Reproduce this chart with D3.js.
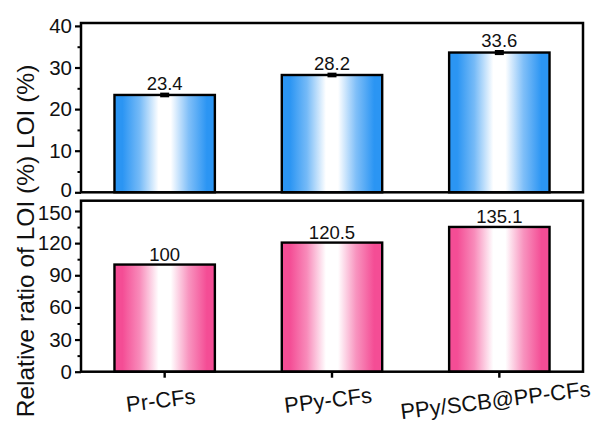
<!DOCTYPE html>
<html>
<head>
<meta charset="utf-8">
<script src="https://cdn.jsdelivr.net/npm/d3@7"></script>
<style>
  html, body { margin: 0; padding: 0; background: #fff; }
  svg text { font-family: "Liberation Sans", Arial, sans-serif; fill: #111; }
</style>
</head>
<body>
<svg id="chart" width="595" height="428"></svg>
<script>
// Samples and measured values
const categories = ["Pr-CFs", "PPy-CFs", "PPy/SCB@PP-CFs"];
const loiValues = [23.4, 28.2, 33.6];
const loiErrors = [0.3, 0.3, 0.35];
const ratioValues = [100, 120.5, 135.1];
const loiTicks = [0, 10, 20, 30, 40];
const ratioTicks = [0, 30, 60, 90, 120, 150];
const yLabel = "Relative ratio of LOI (%) LOI (%)";

const svg = d3.select("#chart");
const left = 81, right = 583;

const x = d3.scaleBand().domain(categories).range([left, right])
  .paddingInner(0.4).paddingOuter(0.2);

// Horizontal gradients: coloured edges fading to a white centre band
const defs = svg.append("defs");
function gradient(id, color) {
  const g = defs.append("linearGradient").attr("id", id)
    .attr("x1", "0%").attr("x2", "100%").attr("y1", "0%").attr("y2", "0%");
  const mix = t => d3.interpolateRgb(color, "#ffffff")(t);
  [[0, color], [0.08, color], [0.25, mix(0.35)], [0.44, "#ffffff"], [0.56, "#ffffff"],
   [0.74, mix(0.4)], [0.92, color], [1, color]].forEach(([o, col]) => {
    g.append("stop").attr("offset", o).attr("stop-color", col);
  });
}
gradient("blueGrad", "#2b95f3");
gradient("pinkGrad", "#f44d95");

function panel(opts) {
  const { top, bottom, domain, ticks, minor, values, errors, grad, showX, edgeShift } = opts;
  const y = d3.scaleLinear().domain(domain).range([bottom, top]);
  const g = svg.append("g");

  g.selectAll("rect.bar").data(values).join("rect")
    .attr("class", "bar")
    .attr("x", (d, i) => x(categories[i]))
    .attr("y", d => y(d))
    .attr("width", x.bandwidth())
    .attr("height", d => y(0) - y(d))
    .attr("fill", `url(#${grad})`)
    .attr("stroke", "#000")
    .attr("stroke-width", 2.4);

  // error bars
  if (errors) {
    values.forEach((v, i) => {
      const cx = x(categories[i]) + x.bandwidth() / 2;
      const e = errors[i];
      g.append("line").attr("x1", cx).attr("x2", cx)
        .attr("y1", y(v - e)).attr("y2", y(v + e))
        .attr("stroke", "#000").attr("stroke-width", 2);
      [v - e, v + e].forEach(t => {
        g.append("line").attr("x1", cx - 4.5).attr("x2", cx + 4.5)
          .attr("y1", y(t)).attr("y2", y(t))
          .attr("stroke", "#000").attr("stroke-width", 2.2);
      });
    });
  }

  // value labels
  g.selectAll("text.val").data(values).join("text")
    .attr("class", "val")
    .attr("x", (d, i) => x(categories[i]) + x.bandwidth() / 2)
    .attr("y", (d, i) => y(d + (errors ? errors[i] : 0)) - 4)
    .attr("text-anchor", "middle")
    .attr("font-size", 18.5)
    .text(d => d);

  // frame
  g.append("rect").attr("x", left).attr("y", top)
    .attr("width", right - left).attr("height", bottom - top)
    .attr("fill", "none").attr("stroke", "#000").attr("stroke-width", 2.5);

  // y axis, major and minor ticks
  const yAxis = d3.axisLeft(y).tickValues(ticks).tickSize(6).tickPadding(3)
    .tickFormat(d3.format("d"));
  const ax = g.append("g").attr("transform", `translate(${left},0)`).call(yAxis);
  ax.select(".domain").remove();
  ax.selectAll(".tick line").attr("stroke", "#000").attr("stroke-width", 2.2);
  ax.selectAll(".tick text").attr("font-size", 20.5)
    .attr("font-family", "'Liberation Sans', Arial, sans-serif").attr("fill", "#111");
  // keep the labels where the two panels meet from crowding each other
  if (edgeShift) {
    ax.selectAll(".tick text").filter(d => d === edgeShift.value)
      .attr("dy", edgeShift.dy);
  }

  const minorAxis = d3.axisLeft(y).tickValues(minor).tickSize(3.5).tickFormat("");
  const mx = g.append("g").attr("transform", `translate(${left},0)`).call(minorAxis);
  mx.select(".domain").remove();
  mx.selectAll(".tick line").attr("stroke", "#000").attr("stroke-width", 2);

  if (showX) {
    const xAxis = d3.axisBottom(x).tickSize(6).tickFormat("");
    const xa = g.append("g").attr("transform", `translate(0,${bottom})`).call(xAxis);
    xa.select(".domain").remove();
    xa.selectAll(".tick line").attr("stroke", "#000").attr("stroke-width", 2.4);

    g.selectAll("text.cat").data(categories).join("text")
      .attr("class", "cat")
      .attr("text-anchor", "middle")
      .attr("font-size", 22)
      .attr("transform", d => `translate(${x(d) + x.bandwidth() / 2 - 3},${bottom + 36}) rotate(-7)`)
      .text(d => d);
  }
}

panel({
  top: 23, bottom: 192.3, domain: [0, 40.7], ticks: loiTicks,
  minor: [5, 15, 25, 35], values: loiValues, errors: loiErrors,
  grad: "blueGrad", showX: false, edgeShift: { value: 0, dy: "0.22em" }
});

panel({
  top: 200.7, bottom: 371.7, domain: [0, 159.6], ticks: ratioTicks,
  minor: [15, 45, 75, 105, 135], values: ratioValues, errors: null,
  grad: "pinkGrad", showX: true, edgeShift: { value: 150, dy: "0.42em" }
});

// shared y title
svg.append("text")
  .attr("transform", "translate(34,241) rotate(-90)")
  .attr("text-anchor", "middle")
  .attr("font-size", 24.5)
  .text(yLabel);
</script>
</body>
</html>
